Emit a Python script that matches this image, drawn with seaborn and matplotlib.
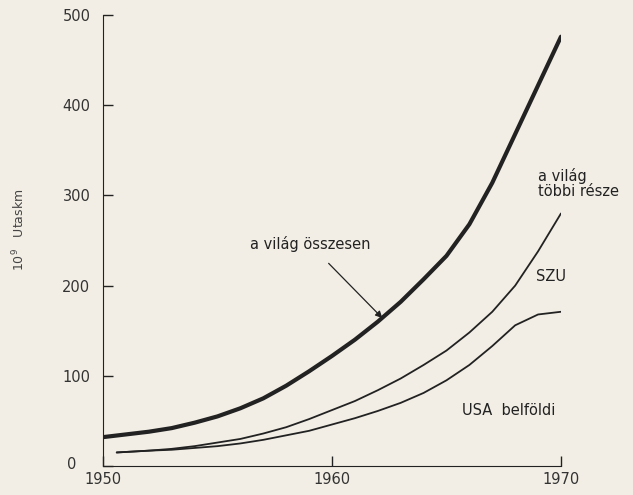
import numpy as np
import pandas as pd
import matplotlib
matplotlib.use("Agg")
import matplotlib.pyplot as plt
import matplotlib.transforms as mtransforms
import seaborn as sns

# values (10^9 passenger-km)
years_total = [1950, 1951, 1952, 1953, 1954, 1955, 1956, 1957, 1958, 1959, 1960,
               1961, 1962, 1963, 1964, 1965, 1966, 1967, 1968, 1969, 1970]
world_total = [32, 35, 38, 42, 48, 55, 64, 75, 89, 105, 122,
               140, 160, 182, 207, 233, 268, 314, 368, 422, 476]

years_thin = [1950.6, 1952, 1953, 1954, 1955, 1956, 1957, 1958, 1959, 1960,
              1961, 1962, 1963, 1964, 1965, 1966, 1967, 1968, 1969, 1970]
# upper thin line: USA + SZU (above it: rest of the world)
usa_szu = [15, 17, 19, 22, 26, 30, 36, 43, 52, 62,
           72, 84, 97, 112, 128, 148, 171, 200, 238, 280]
# lower thin line: USA domestic
usa = [15, 17, 18, 20, 22, 25, 29, 34, 39, 46,
       53, 61, 70, 81, 95, 112, 133, 156, 168, 171]

bg = "#f2eee5"
ink = "#222222"

sns.set_style("ticks")
plt.rcParams["font.family"] = ["DejaVu Sans"]

fig = plt.figure(figsize=(6.33, 4.95), dpi=100, facecolor=bg)
ax = fig.add_axes([0.1627, 0.0586, 0.7235, 0.911])
ax.set_facecolor(bg)

sns.lineplot(x=years_total, y=world_total, ax=ax, color=ink, linewidth=3.0)
sns.lineplot(x=years_thin, y=usa_szu, ax=ax, color=ink, linewidth=1.3)
sns.lineplot(x=years_thin, y=usa, ax=ax, color=ink, linewidth=1.3)

ax.set_xlim(1950, 1970)
ax.set_ylim(0, 500)
ax.set_xticks([1950, 1960, 1970])
ax.set_yticks([0, 100, 200, 300, 400, 500])
ax.tick_params(axis="both", direction="in", length=7, width=1.0, colors=ink,
               labelsize=10.5, labelcolor="#333333")
ax.tick_params(axis="y", pad=9)
ax.tick_params(axis="x", pad=4)
sns.despine(ax=ax)
ax.spines["left"].set_color(ink)
ax.spines["bottom"].set_color(ink)

# the "0" sits a bit further left in the original, clear of "1950"
zero_lab = ax.get_yticklabels()[0]
zero_lab.set_transform(zero_lab.get_transform()
                       + mtransforms.ScaledTranslation(-10 / 72, 2 / 72, fig.dpi_scale_trans))

ax.set_xlabel("")
ax.set_ylabel(r"$10^9$   Utaskm", fontsize=9, color="#444444")
ax.yaxis.set_label_coords(-0.166, 0.523)

# curve labels
ax.annotate("a világ összesen", xy=(1962.2, 164), xytext=(1956.4, 246),
            fontsize=10.5, color=ink, va="center",
            arrowprops=dict(arrowstyle="-|>", color=ink, lw=0.9,
                            shrinkA=8, shrinkB=0, mutation_scale=10))
ax.text(1969.0, 330, "a világ\ntöbbi része", fontsize=10.5, color=ink,
        va="top", ha="left", linespacing=1.0, clip_on=False)
ax.text(1968.9, 210, "SZU", fontsize=10.5, color=ink, va="center", ha="left")
ax.text(1965.7, 62, "USA  belföldi", fontsize=10.5, color=ink, va="center", ha="left")

fig.savefig("out.png", dpi=100, facecolor=bg)
